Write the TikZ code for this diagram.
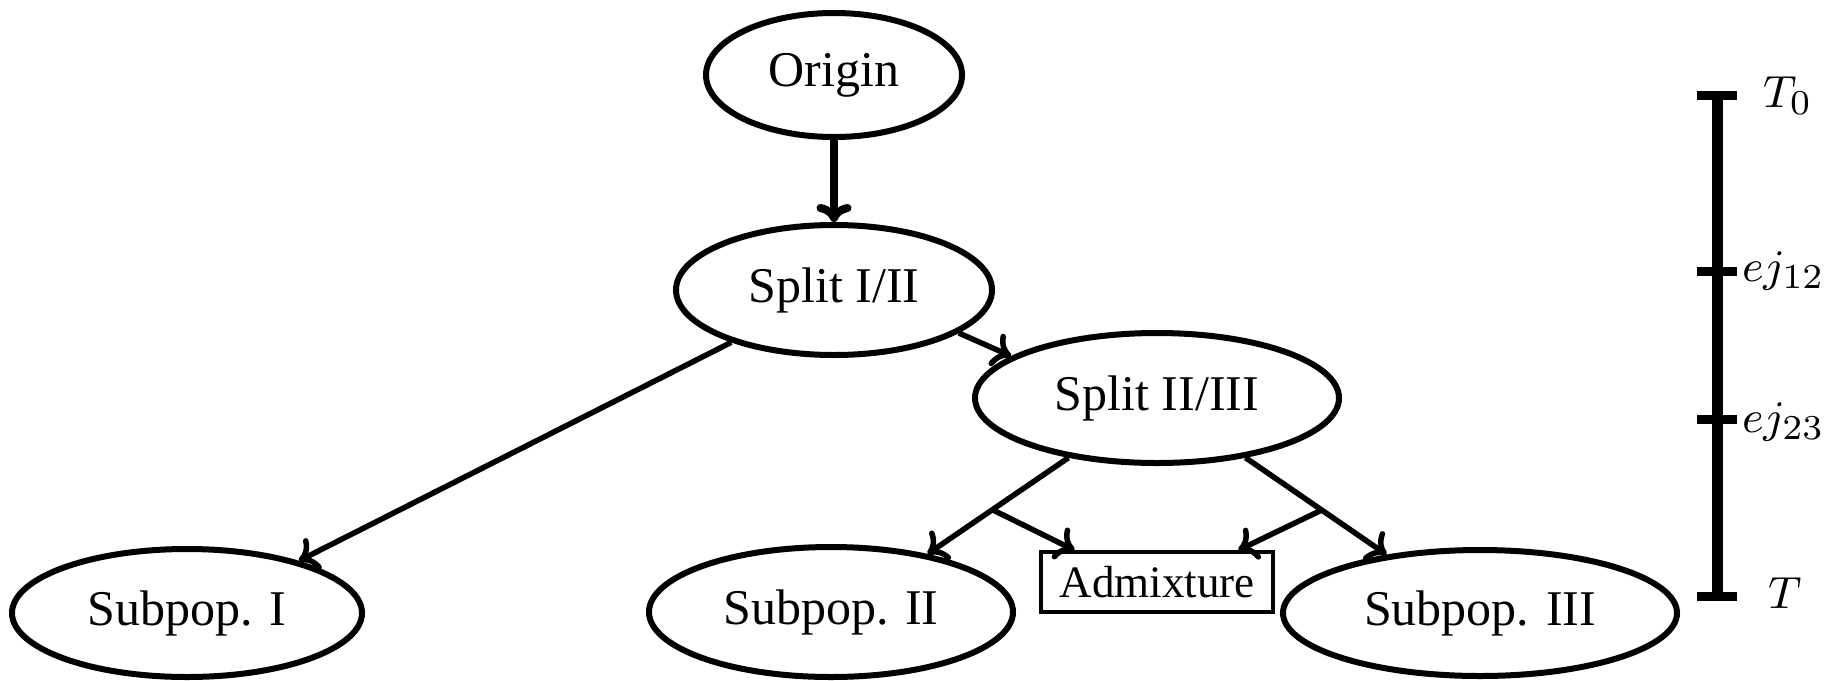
\documentclass[tikz,border=0pt]{standalone}
\usepackage[no-math]{fontspec}
\setmainfont{Liberation Serif}
\usetikzlibrary{shapes.geometric,arrows.meta,calc}
\begin{document}
\begin{tikzpicture}[x=0.2pt,y=-0.2pt,
  pop/.style={draw,ellipse,line width=1.2pt,inner sep=0pt,font=\fontsize{10}{12}\selectfont},
  link/.style={line width=1.1pt,-{To[length=3.6pt,width=7pt]}},
  boxnode/.style={draw,line width=0.7pt,inner sep=0pt,font=\fontsize{9}{11}\selectfont},
  lab/.style={anchor=base west,inner sep=0pt,font=\fontsize{9.5}{11}\selectfont},
  tick/.style={line width=1.8pt}]
\useasboundingbox (0,0) rectangle (1824,680);
% nodes
\node[pop,minimum width=51.2pt,minimum height=24.8pt] (orig) at (834,75) {Origin};
\node[pop,minimum width=63.2pt,minimum height=26pt] (s12) at (834,290) {Split I/II};
\node[pop,minimum width=72.8pt,minimum height=26pt] (s23) at (1157,398) {Split II/III};
\node[pop,minimum width=70pt,minimum height=25.6pt] (p1) at (187,613) {Subpop. I};
\node[pop,minimum width=72.8pt,minimum height=26pt] (p2) at (831,612) {Subpop. II};
\node[pop,minimum width=78.8pt,minimum height=25.2pt] (p3) at (1480,613) {Subpop. III};
\node[boxnode,minimum width=46.4pt,minimum height=12pt] (adm) at (1157,582) {Admixture};
% connectors
\draw[link,line width=1.6pt] (orig) -- (s12);
\draw[link] (s12.-19) -- (s23.164);
\draw[link] (s12.207) -- (p1.25);
\draw[link] (s23.214) -- (p2.31);
\draw[link] (s23.-34) -- (p3.148);
\coordinate (b1) at ($(s23.214)!0.54!(p2.31)$);
\coordinate (b2) at ($(s23.-34)!0.54!(p3.148)$);
\coordinate (a1) at ($(adm.north west)!0.15!(adm.north east)$);
\coordinate (a2) at ($(adm.north west)!0.845!(adm.north east)$);
\draw[link] (b1) -- (a1);
\draw[link] (b2) -- (a2);
% time scale
\coordinate (t0) at (1717,95);
\coordinate (t12) at (1717,271);
\coordinate (t23) at (1717,419);
\coordinate (tT) at (1717,596);
\draw[line width=2.2pt] (t0) -- (tT);
\foreach \c in {t0,t12,t23,tT} \draw[tick] ([xshift=-4pt]\c) -- ([xshift=4pt]\c);
\node[lab] (l0) at (1762,107) {$T_0$};
\node[lab] (l12) at (1741,281) {$ej_{12}$};
\node[lab] (l23) at (1741,432) {$ej_{23}$};
\node[lab] (lT) at (1767,608) {$T$};
\end{tikzpicture}
\end{document}
